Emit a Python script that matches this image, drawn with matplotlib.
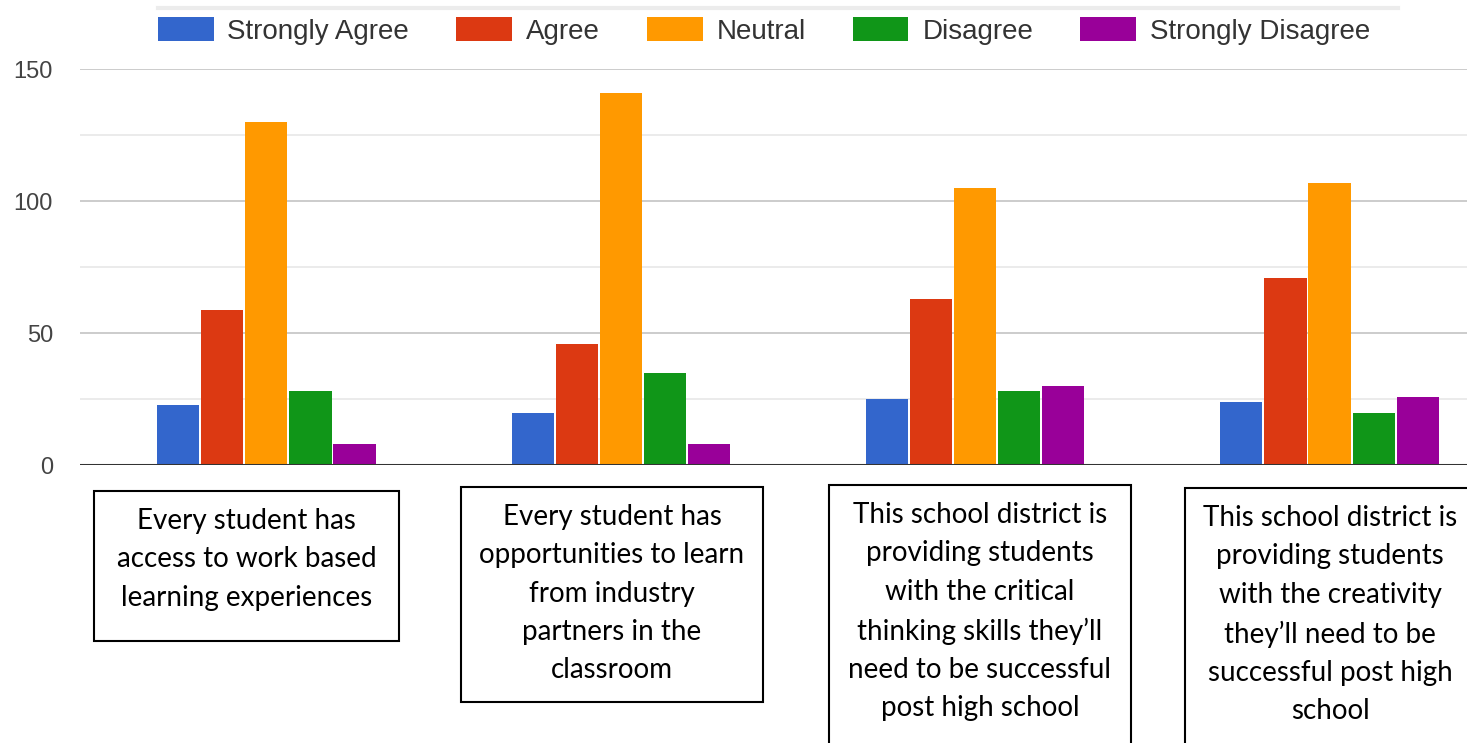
import matplotlib
matplotlib.use("Agg")
import matplotlib.pyplot as plt
from matplotlib.patches import Rectangle
from matplotlib.lines import Line2D
import numpy as np

# data
statements = [
    "Every student has\naccess to work based\nlearning experiences",
    "Every student has\nopportunities to learn\nfrom industry\npartners in the\nclassroom",
    "This school district is\nproviding students\nwith the critical\nthinking skills they\u2019ll\nneed to be successful\npost high school",
    "This school district is\nproviding students\nwith the creativity\nthey\u2019ll need to be\nsuccessful post high\nschool",
]
responses = ["Strongly Agree", "Agree", "Neutral", "Disagree", "Strongly Disagree"]
strongly_agree = [23, 20, 25, 24]
agree = [59, 46, 63, 71]
neutral = [130, 141, 105, 107]
disagree = [28, 35, 28, 20]
strongly_disagree = [8, 8, 30, 26]
yticks = [0, 50, 100, 150]

series = [strongly_agree, agree, neutral, disagree, strongly_disagree]
colors = ["#3366CC", "#DC3912", "#FF9900", "#109618", "#990099"]

W, H = 1467, 743
fig = plt.figure(figsize=(W / 100, H / 100), dpi=100)
ax = fig.add_axes([80 / W, 1 - 465.3 / H, 1387 / W, 396 / H])

x = np.arange(len(statements))
step = 0.1244
for i, (vals, col) in enumerate(zip(series, colors)):
    ax.bar(x + (i - 2) * step, vals, width=0.119, color=col, label=responses[i], zorder=3)

ax.set_xlim(-0.526, 3.388)
ax.set_ylim(0, 150)
ax.set_yticks(yticks)
ax.set_yticks([25, 75, 125], minor=True)
ax.set_xticks([])
ax.grid(axis="y", which="major", color="#cccccc", lw=1.4, zorder=0)
ax.grid(axis="y", which="minor", color="#ebebeb", lw=1.4, zorder=0)
ax.axhline(0, color="#333333", lw=2.2, zorder=4)
for s in ax.spines.values():
    s.set_visible(False)
ax.tick_params(axis="y", which="both", length=0, pad=19.5, labelsize=17, labelcolor="#444444")
for lab in ax.get_yticklabels():
    lab.set_family("Liberation Sans")

leg = fig.legend(loc="center left", bbox_to_anchor=(158 / W, 1 - 31 / H), ncol=5,
                 frameon=False, prop={"family": "Liberation Sans", "size": 20},
                 handlelength=2.0, handleheight=0.97, handletextpad=0.5,
                 columnspacing=1.7, borderpad=0, borderaxespad=0,
                 labelcolor="#333333")

# faint rule above legend
fig.add_artist(Line2D([158 / W, 1398 / W], [1 - 8 / H, 1 - 8 / H], color="#ececec", lw=3))

# boxed statements under each group
boxes = [(94, 491, 305, 150), (461, 487, 302, 215), (829, 485, 302, 270), (1185, 488, 290, 270)]
for (bx, by, bw, bh), txt in zip(boxes, statements):
    fig.add_artist(Rectangle((bx / W, 1 - (by + bh) / H), bw / W, bh / H,
                             fill=False, ec="black", lw=1.5, transform=fig.transFigure))
    fig.text((bx + bw / 2) / W, 1 - (by + 17) / H, txt, ha="center", va="top",
             family="Lato", fontsize=20, linespacing=1.585, color="black")

fig.savefig("out.png", dpi=100)
